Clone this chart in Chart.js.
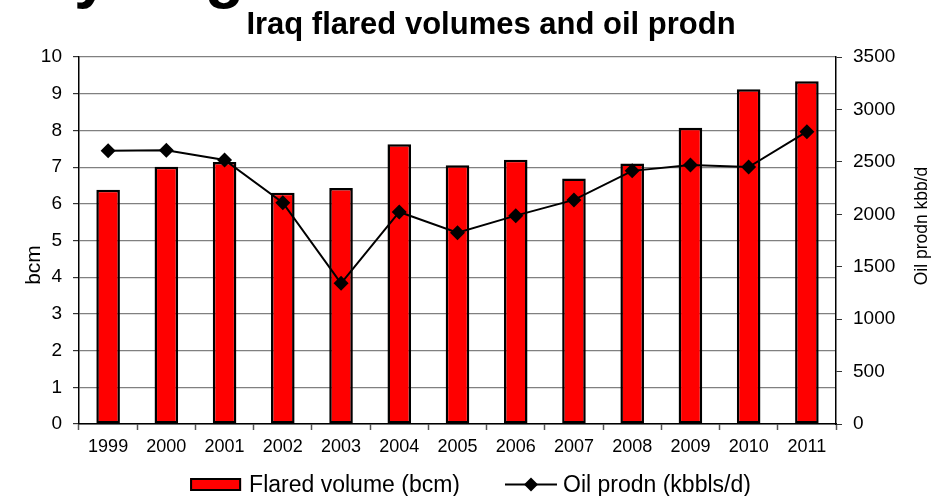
<!DOCTYPE html>
<html>
<head>
<meta charset="utf-8">
<title>Iraq flared volumes and oil prodn</title>
<script src="https://cdn.jsdelivr.net/npm/chart.js@4.4.1/dist/chart.umd.min.js"></script>
<style>
    html, body { margin: 0; padding: 0; background: #fff; }
    #wrap { position: relative; width: 941px; height: 496px; }
</style>
</head>
<body>
<div id="wrap"><canvas id="chart" width="941" height="496"></canvas></div>
<script>
// 数据
const years = ['1999', '2000', '2001', '2002', '2003', '2004', '2005', '2006', '2007', '2008', '2009', '2010', '2011'];
const flaredVolume = [6.38, 7.01, 7.14, 6.30, 6.43, 7.62, 7.05, 7.20, 6.69, 7.10, 8.07, 9.12, 9.34];
const oilProdn = [2605, 2610, 2518, 2111, 1342, 2022, 1825, 1987, 2137, 2414, 2470, 2451, 2788];

// 文字
const chartTitle = 'Iraq flared volumes and oil prodn';
const leftAxisTitle = 'bcm';
const rightAxisTitle = 'Oil prodn kbb/d';
const seriesNames = ['Flared volume (bcm)', 'Oil prodn (kbbls/d)'];

const FONT = '"Liberation Sans", Arial, sans-serif';

// 标题、轴标题和图例（自己画）
const extraText = {
    id: 'extraText',
    afterDraw(chart) {
        const ctx = chart.ctx;
        ctx.save();
        ctx.fillStyle = '#000';

        // 被截掉的幻灯片大标题
        ctx.font = 'bold 64px ' + FONT;
        ctx.textAlign = 'left';
        ctx.textBaseline = 'alphabetic';
        ctx.fillText('y', 74, -4);
        ctx.fillText('g', 205, -4);

        // 图表标题
        ctx.font = 'bold 31px ' + FONT;
        ctx.textAlign = 'center';
        ctx.fillText(chartTitle, 491, 34);

        // 左轴标题
        ctx.font = '21px ' + FONT;
        ctx.save();
        ctx.translate(40, 265);
        ctx.rotate(-Math.PI / 2);
        ctx.fillText(leftAxisTitle, 0, 0);
        ctx.restore();

        // 右轴标题
        ctx.font = '17.5px ' + FONT;
        ctx.save();
        ctx.translate(927, 226);
        ctx.rotate(-Math.PI / 2);
        ctx.fillText(rightAxisTitle, 0, 0);
        ctx.restore();

        // 图例
        const bar = chart.data.datasets[0];
        const line = chart.data.datasets[1];
        ctx.font = '23px ' + FONT;
        ctx.textAlign = 'left';
        ctx.textBaseline = 'middle';
        const w1 = ctx.measureText(bar.label).width;
        const w2 = ctx.measureText(line.label).width;
        const total = 51 + 8 + w1 + 45 + 52 + 6 + w2;
        let x = (chart.width - total) / 2;
        const y = 484.5;

        ctx.fillStyle = bar.backgroundColor;
        ctx.fillRect(x, y - 6.5, 51, 13);
        ctx.strokeStyle = bar.borderColor;
        ctx.lineWidth = 2;
        ctx.strokeRect(x + 1, y - 5.5, 49, 11);
        ctx.fillStyle = '#000';
        ctx.fillText(bar.label, x + 59, y + 1);

        x += 59 + w1 + 45;
        ctx.strokeStyle = line.borderColor;
        ctx.lineWidth = 2;
        ctx.beginPath();
        ctx.moveTo(x, y);
        ctx.lineTo(x + 52, y);
        ctx.stroke();
        ctx.beginPath();
        ctx.moveTo(x + 26, y - 7);
        ctx.lineTo(x + 33, y);
        ctx.lineTo(x + 26, y + 7);
        ctx.lineTo(x + 19, y);
        ctx.closePath();
        ctx.fillStyle = line.pointBackgroundColor;
        ctx.fill();
        ctx.fillStyle = '#000';
        ctx.fillText(line.label, x + 58, y + 1);

        ctx.restore();
    }
};

const ctx = document.getElementById('chart').getContext('2d');
const chart = new Chart(ctx, {
    type: 'bar',
    data: {
        labels: years,
        datasets: [{
            type: 'bar',
            label: seriesNames[0],
            data: flaredVolume,
            yAxisID: 'y',
            backgroundColor: '#ff0000',
            borderColor: '#000',
            borderWidth: 2.5,
            borderSkipped: false,
            barPercentage: 0.405,
            categoryPercentage: 1,
            order: 2
        }, {
            type: 'line',
            label: seriesNames[1],
            data: oilProdn,
            yAxisID: 'y1',
            borderColor: '#000',
            borderWidth: 2,
            tension: 0,
            pointStyle: 'rectRot',
            pointRadius: 7.5,
            pointBorderWidth: 0,
            pointBackgroundColor: '#000',
            pointBorderColor: '#000',
            order: 1
        }]
    },
    options: {
        responsive: false,
        animation: false,
        devicePixelRatio: 1,
        layout: { padding: { top: 57, left: 0, right: 0, bottom: 0 } },
        plugins: {
            legend: { display: false },
            title: { display: false },
            tooltip: { enabled: false }
        },
        scales: {
            x: {
                offset: true,
                grid: {
                    offset: true,
                    drawOnChartArea: false,
                    tickLength: 6,
                    tickColor: '#555',
                    tickWidth: 1.5
                },
                border: { color: '#000', width: 1.5 },
                ticks: {
                    color: '#000',
                    font: { family: FONT, size: 18 },
                    padding: 6,
                    maxRotation: 0
                },
                afterFit(scale) { scale.height = 72; }
            },
            y: {
                position: 'left',
                min: 0,
                max: 10,
                ticks: {
                    stepSize: 1,
                    color: '#000',
                    font: { family: FONT, size: 19 },
                    padding: 11,
                    callback: value => String(value)
                },
                grid: {
                    color: '#808080',
                    lineWidth: 1.2,
                    tickLength: 6,
                    tickColor: '#333'
                },
                border: { color: '#000', width: 1.5 },
                afterFit(scale) { scale.width = 79; }
            },
            y1: {
                position: 'right',
                min: 0,
                max: 3500,
                ticks: {
                    stepSize: 500,
                    color: '#000',
                    font: { family: FONT, size: 19 },
                    padding: 11,
                    callback: value => String(value)
                },
                grid: {
                    drawOnChartArea: false,
                    tickLength: 6,
                    tickColor: '#333'
                },
                border: { color: '#000', width: 1.5 },
                afterFit(scale) { scale.width = 105; }
            }
        }
    },
    plugins: [extraText]
});
</script>
</body>
</html>
